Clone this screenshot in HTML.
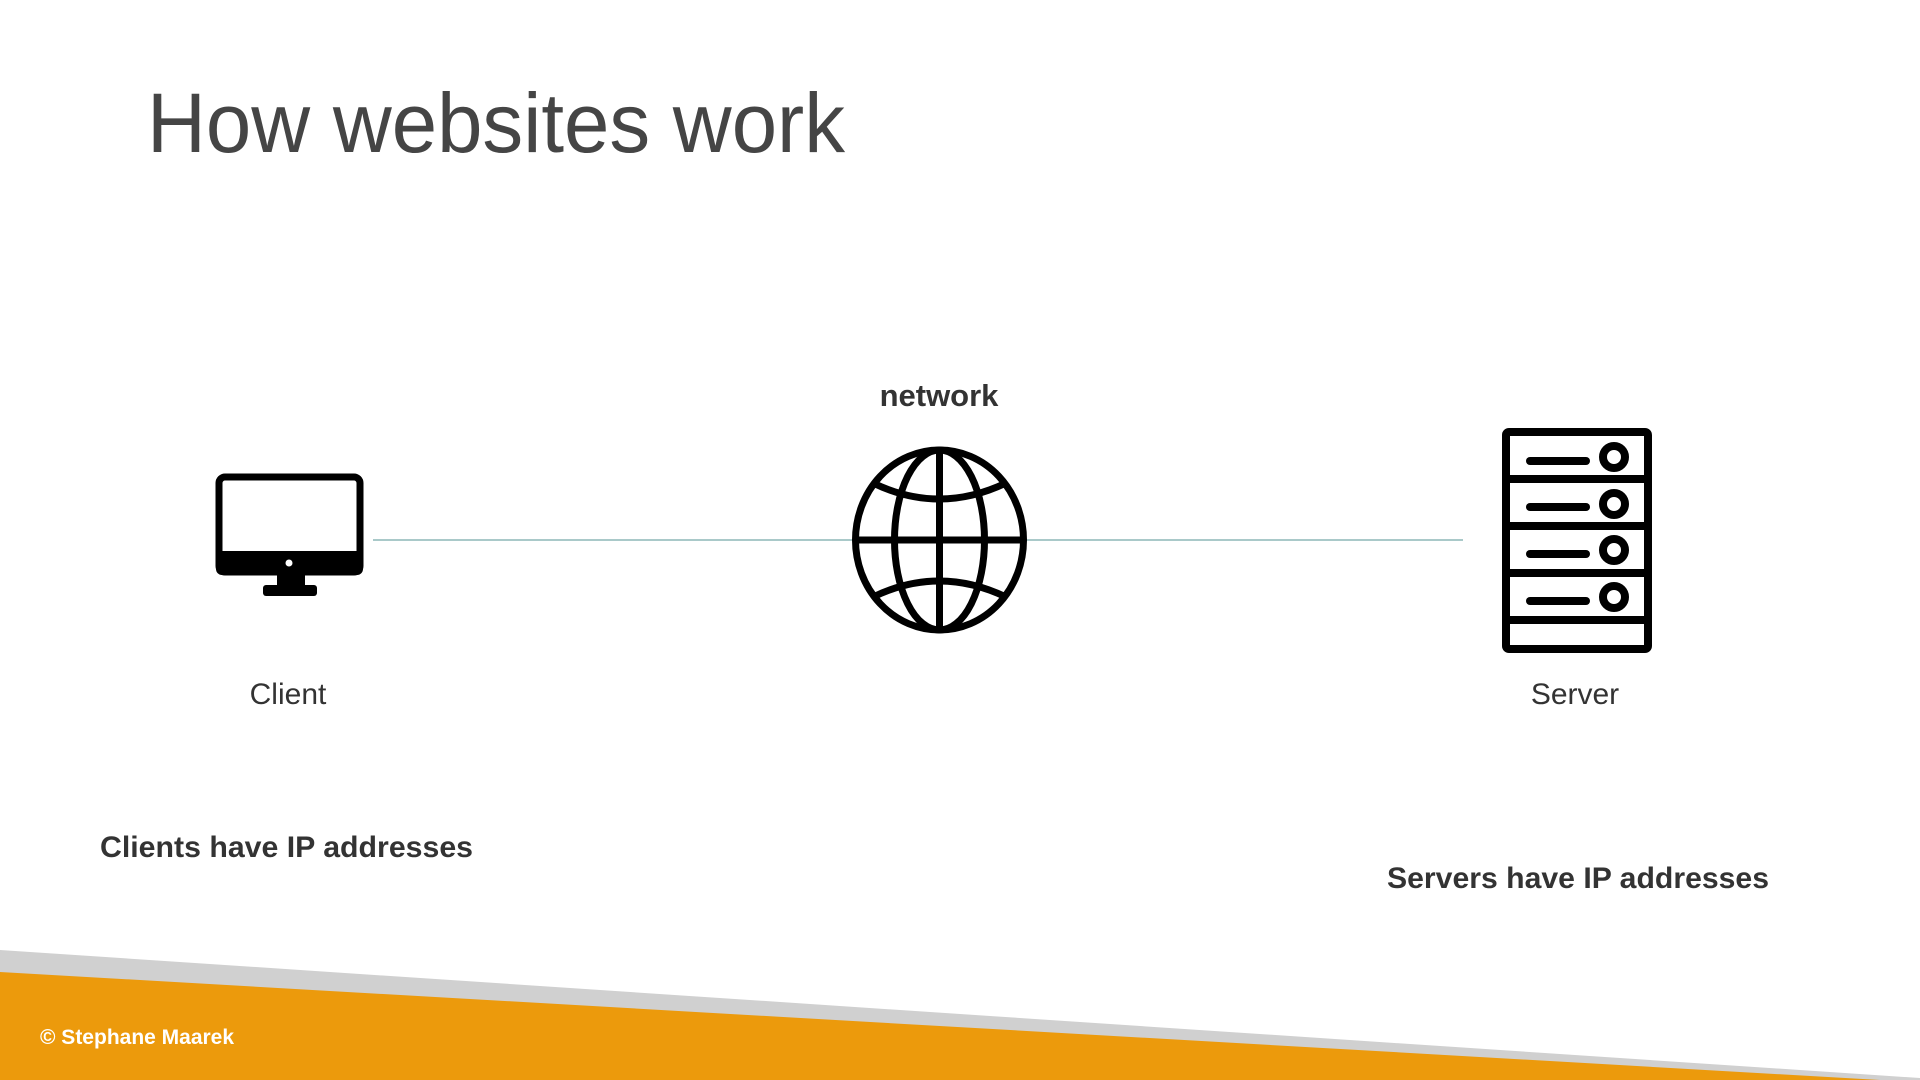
<!DOCTYPE html>
<html><head><style>html,body{margin:0;padding:0;background:#fff}svg{display:block}</style></head>
<body>
<svg width="1920" height="1080" viewBox="0 0 1920 1080" xmlns="http://www.w3.org/2000/svg">
<rect width="1920" height="1080" fill="#fff"/>
<text x="147" y="152" font-family="Liberation Sans, sans-serif" font-size="84" fill="#454545" textLength="698" lengthAdjust="spacingAndGlyphs">How websites work</text>
<text x="939" y="406" text-anchor="middle" font-family="Liberation Sans, sans-serif" font-weight="bold" font-size="31" fill="#333">network</text>
<line x1="373" y1="540" x2="1463" y2="540" stroke="#a9c9c9" stroke-width="2"/>
<!-- monitor -->
<rect x="219" y="477" width="141" height="95" rx="6" fill="none" stroke="#000" stroke-width="7"/>
<rect x="216" y="551" width="147" height="24" rx="6" fill="#000"/>
<circle cx="289" cy="563" r="3.5" fill="#fff"/>
<rect x="277" y="574" width="28" height="13" fill="#000"/>
<rect x="263" y="585" width="54" height="11" rx="3" fill="#000"/>
<!-- globe -->
<g fill="none" stroke="#000" stroke-width="7">
<ellipse cx="939.5" cy="540" rx="84" ry="90"/>
<ellipse cx="939.5" cy="540" rx="45" ry="90"/>
<line x1="939.5" y1="450" x2="939.5" y2="630"/>
<line x1="855" y1="540" x2="1024" y2="540"/>
<path d="M873 483 Q939 515 1006 483"/>
<path d="M873 597 Q939 565 1006 597"/>
</g>
<!-- server -->
<g fill="none" stroke="#000" stroke-width="8">
<rect x="1506" y="432" width="142" height="217" rx="3"/>
<line x1="1506" y1="479" x2="1648" y2="479"/>
<line x1="1506" y1="526" x2="1648" y2="526"/>
<line x1="1506" y1="573" x2="1648" y2="573"/>
<line x1="1506" y1="620" x2="1648" y2="620"/>
</g>
<g stroke="#000" stroke-width="8" stroke-linecap="round" fill="none">
<line x1="1530" y1="461" x2="1586" y2="461"/>
<line x1="1530" y1="507" x2="1586" y2="507"/>
<line x1="1530" y1="554" x2="1586" y2="554"/>
<line x1="1530" y1="601" x2="1586" y2="601"/>
<circle cx="1614" cy="457" r="11"/>
<circle cx="1614" cy="504" r="11"/>
<circle cx="1614" cy="550" r="11"/>
<circle cx="1614" cy="597" r="11"/>
</g>
<text x="288" y="704" text-anchor="middle" font-family="Liberation Sans, sans-serif" font-size="30" fill="#333">Client</text>
<text x="1575" y="704" text-anchor="middle" font-family="Liberation Sans, sans-serif" font-size="30" fill="#333">Server</text>
<text x="100" y="857" font-family="Liberation Sans, sans-serif" font-weight="bold" font-size="30" fill="#333" textLength="373" lengthAdjust="spacingAndGlyphs">Clients have IP addresses</text>
<text x="1387" y="888" font-family="Liberation Sans, sans-serif" font-weight="bold" font-size="30" fill="#333" textLength="382" lengthAdjust="spacingAndGlyphs">Servers have IP addresses</text>
<!-- footer -->
<polygon points="0,950 1920,1078 1920,1080 0,1080" fill="#d0d0d0"/>
<polygon points="0,972 1880,1080 0,1080" fill="#ec9a0c"/>
<text x="40" y="1044" font-family="Liberation Sans, sans-serif" font-weight="bold" font-size="21" fill="#fff">© Stephane Maarek</text>
</svg>
</body></html>
